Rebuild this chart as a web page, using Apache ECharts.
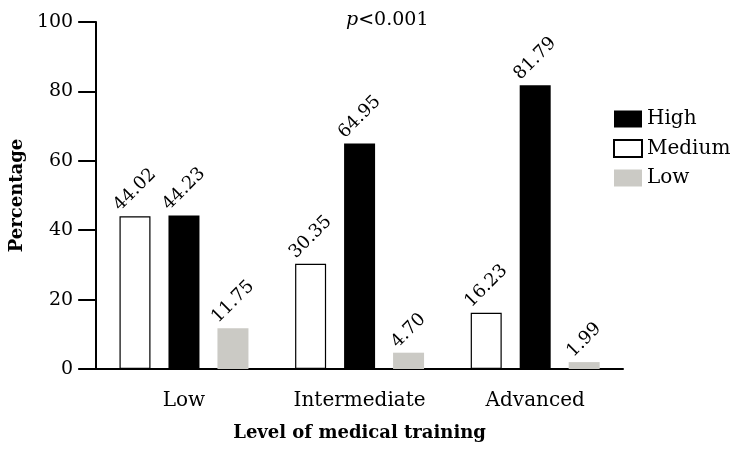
<!DOCTYPE html>
<html>
<head>
<meta charset="utf-8">
<script src="https://cdn.jsdelivr.net/npm/echarts@6/dist/echarts.min.js"></script>
<style>
  html, body { margin: 0; padding: 0; background: #fff; }
  #chart { width: 735px; height: 456px; }
</style>
</head>
<body>
<div id="chart"></div>
<script>
// Training levels along the x axis
const categories = ['Low', 'Intermediate', 'Advanced'];

// Percentage of respondents per knowledge level
const mediumValues = [44.02, 30.35, 16.23];
const highValues = [44.23, 64.95, 81.79];
const lowValues = [11.75, 4.70, 1.99];

// Y axis range
const yTicks = [0, 20, 40, 60, 80, 100];

const FONT = 'DejaVu Serif';

function valueLabel(len) {
  return {
    show: true,
    position: 'top',
    rotate: 45,
    align: 'center',
    verticalAlign: 'middle',
    distance: 4 + 4.5 * len,
    color: '#000',
    fontFamily: FONT,
    fontSize: 18
  };
}

function toData(values) {
  return values.map(v => {
    const txt = v.toFixed(2);
    return { value: v, label: Object.assign(valueLabel(txt.length), { formatter: txt }) };
  });
}

const chart = echarts.init(document.getElementById('chart'), null, { renderer: 'canvas' });

chart.setOption({
  animation: false,
  backgroundColor: '#fff',
  textStyle: { fontFamily: FONT, color: '#000' },
  title: {
    text: '{i|p}<0.001',
    left: 341,
    top: 6,
    textStyle: {
      fontFamily: FONT,
      fontSize: 19,
      fontWeight: 'normal',
      color: '#000',
      rich: {
        i: { fontFamily: FONT, fontSize: 19, fontStyle: 'italic', color: '#000' }
      }
    }
  },
  legend: {
    data: ['High', 'Medium', 'Low'],
    orient: 'vertical',
    left: 613,
    top: 109,
    icon: 'rect',
    itemWidth: 28,
    itemHeight: 17,
    itemGap: 9.5,
    padding: 0,
    textStyle: { fontFamily: FONT, fontSize: 20, color: '#000' }
  },
  grid: { left: 94, right: 112, top: 22, bottom: 87, containLabel: false },
  xAxis: {
    type: 'category',
    data: categories,
    name: 'Level of medical training',
    nameLocation: 'middle',
    nameGap: 55,
    nameTextStyle: { fontFamily: FONT, fontSize: 18, fontWeight: 'bold', color: '#000' },
    axisLine: { lineStyle: { color: '#000', width: 2 } },
    axisTick: { alignWithLabel: true, length: 11, lineStyle: { color: '#000', width: 2 } },
    axisLabel: { fontFamily: FONT, fontSize: 20, color: '#000', margin: 22 }
  },
  yAxis: {
    type: 'value',
    min: yTicks[0],
    max: yTicks[yTicks.length - 1],
    interval: yTicks[1] - yTicks[0],
    name: 'Percentage',
    nameLocation: 'middle',
    nameGap: 62,
    nameRotate: 90,
    nameTextStyle: { fontFamily: FONT, fontSize: 18, fontWeight: 'bold', color: '#000' },
    splitLine: { show: false },
    axisLine: { show: true, lineStyle: { color: '#000', width: 2 } },
    axisTick: { show: true, length: 18, lineStyle: { color: '#000', width: 2 } },
    axisLabel: { fontFamily: FONT, fontSize: 19, color: '#000', margin: 23 }
  },
  series: [
    {
      name: 'Medium',
      type: 'bar',
      barWidth: 31,
      barGap: '58%',
      data: toData(mediumValues),
      itemStyle: { color: '#fff', borderColor: '#000', borderWidth: 1.2 }
    },
    {
      name: 'High',
      type: 'bar',
      barWidth: 31,
      barGap: '58%',
      data: toData(highValues),
      itemStyle: { color: '#000' }
    },
    {
      name: 'Low',
      type: 'bar',
      barWidth: 31,
      barGap: '58%',
      data: toData(lowValues),
      itemStyle: { color: '#cbcac5' }
    }
  ]
});
</script>
</body>
</html>
